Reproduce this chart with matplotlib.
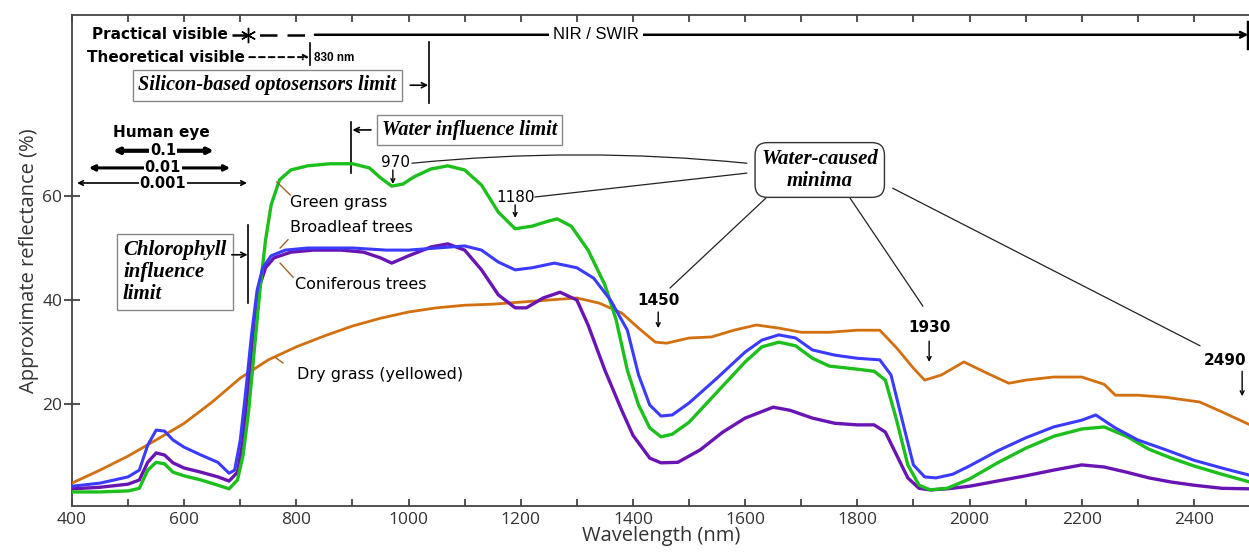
import numpy as np
import matplotlib
matplotlib.use("Agg")
import matplotlib.pyplot as plt

# ---- data ----
green_wl = [400, 450, 500, 520, 535, 550, 565, 580, 600, 630, 660, 680, 695, 705, 715, 725,
            735, 745, 755, 770, 790, 820, 860, 900, 930, 950, 970, 990, 1010, 1040, 1070,
            1100, 1130, 1160, 1190, 1220, 1250, 1265, 1290, 1320, 1350, 1370, 1390, 1410,
            1430, 1450, 1470, 1500, 1550, 1600, 1630, 1660, 1690, 1720, 1750, 1800, 1830,
            1850, 1870, 1890, 1910, 1930, 1960, 2000, 2050, 2100, 2150, 2200, 2240, 2280,
            2320, 2360, 2400, 2450, 2500]
green_r = [3.1, 3.1, 3.3, 3.8, 7.3, 8.8, 8.5, 6.9, 6.2, 5.4, 4.4, 3.7, 5.4, 10.2, 18.8, 30.4,
           41.9, 51.5, 58.3, 63.1, 65.0, 65.8, 66.2, 66.2, 65.4, 63.5, 61.9, 62.3, 63.7, 65.2,
           65.8, 65.0, 62.1, 56.9, 53.7, 54.2, 55.2, 55.6, 54.2, 49.6, 42.9, 36.2, 26.5, 19.8,
           15.4, 13.7, 14.2, 16.5, 22.3, 28.1, 31.0, 31.9, 31.2, 28.8, 27.3, 26.7, 26.3,
           24.6, 16.9, 8.3, 4.4, 3.5, 3.8, 5.6, 8.7, 11.5, 13.8, 15.2, 15.6, 13.8,
           11.3, 9.6, 8.1, 6.5, 5.0]

blue_wl = [400, 450, 500, 520, 535, 550, 565, 580, 600, 630, 660, 680, 690, 700, 710, 720,
           730, 740, 755, 780, 820, 900, 960, 1000, 1050, 1100, 1130, 1160, 1190, 1220, 1260,
           1300, 1330, 1360, 1390, 1410, 1430, 1450, 1470, 1500, 1550, 1600, 1630, 1660,
           1690, 1720, 1760, 1800, 1840, 1860, 1880, 1900, 1920, 1940, 1970, 2000, 2050,
           2100, 2150, 2200, 2225, 2260, 2300, 2350, 2400, 2450, 2500]
blue_r = [4.2, 4.8, 6.0, 7.3, 12.1, 15.0, 14.8, 13.1, 11.7, 10.2, 8.8, 6.7, 7.3, 13.1, 22.7,
          33.3, 41.9, 46.2, 48.5, 49.6, 50.0, 50.0, 49.6, 49.6, 50.0, 50.4, 49.6, 47.3, 45.8,
          46.2, 47.1, 46.2, 44.2, 40.0, 34.2, 25.6, 19.8, 17.7, 17.9, 20.2, 25.0, 30.0, 32.3,
          33.3, 32.7, 30.4, 29.4, 28.8, 28.5, 25.6, 16.9, 8.3, 6.0, 5.8, 6.5, 8.1, 11.0,
          13.5, 15.6, 16.9, 17.9, 15.4, 13.1, 11.2, 9.2, 7.7, 6.3]

conif_wl = [400, 450, 500, 520, 535, 550, 565, 580, 600, 630, 660, 680, 695, 705, 715, 725,
            735, 745, 760, 790, 830, 880, 920, 950, 970, 1000, 1040, 1070, 1100, 1130, 1160,
            1190, 1210, 1240, 1270, 1300, 1320, 1350, 1380, 1400, 1430, 1450, 1480, 1520,
            1560, 1600, 1650, 1680, 1720, 1760, 1800, 1830, 1850, 1870, 1890, 1910, 1930,
            1960, 2000, 2050, 2100, 2150, 2200, 2240, 2280, 2320, 2360, 2400, 2450, 2500]
conif_r = [3.7, 4.0, 4.6, 5.4, 8.8, 10.6, 10.2, 8.7, 7.7, 6.9, 6.0, 5.2, 6.9, 13.1, 24.6,
           36.2, 42.9, 46.2, 48.1, 49.2, 49.6, 49.6, 49.2, 48.1, 47.1, 48.5, 50.2, 50.8, 49.6,
           45.8, 41.0, 38.5, 38.5, 40.4, 41.5, 40.0, 35.2, 26.5, 18.8, 14.0, 9.6, 8.7, 8.8,
           11.2, 14.6, 17.3, 19.4, 18.8, 17.3, 16.3, 16.0, 16.0, 14.6, 10.2, 5.8, 3.8, 3.5,
           3.7, 4.2, 5.2, 6.2, 7.3, 8.3, 7.9, 6.9, 5.8, 5.0, 4.4, 3.8, 3.7]

dry_wl = [400, 450, 500, 550, 600, 650, 700, 750, 800, 850, 900, 950, 1000, 1050, 1100,
          1150, 1200, 1250, 1300, 1340, 1380, 1410, 1440, 1460, 1500, 1540, 1580, 1620,
          1660, 1700, 1750, 1800, 1840, 1870, 1900, 1920, 1950, 1990, 2030, 2070, 2100,
          2150, 2200, 2240, 2260, 2300, 2350, 2410, 2450, 2500]
dry_r = [4.8, 7.3, 10.0, 13.1, 16.3, 20.4, 25.0, 28.5, 31.0, 33.1, 35.0, 36.5, 37.7, 38.5,
         39.0, 39.2, 39.6, 40.0, 40.4, 39.4, 37.5, 34.6, 31.9, 31.7, 32.7, 32.9, 34.2, 35.2,
         34.6, 33.8, 33.8, 34.2, 34.2, 30.8, 26.9, 24.6, 25.6, 28.1, 26.0, 24.0, 24.6,
         25.2, 25.2, 23.8, 21.7, 21.7, 21.3, 20.4, 18.5, 16.0]

minima_wl = [970, 1180, 1450, 1930, 2490]
x_ticks = [400, 600, 800, 1000, 1200, 1400, 1600, 1800, 2000, 2200, 2400]
y_ticks = [20, 40, 60]

GREEN, BLUE, PURPLE, ORANGE = "#1cbf1c", "#3b3bff", "#6a14b4", "#d2700f"
LEAD = "#a0622a"
SANS = ["DejaVu Sans"]
SERIF = ["Liberation Serif", "DejaVu Serif"]
TICKF = ["Open Sans", "DejaVu Sans"]

fig = plt.figure(figsize=(12.49, 5.53), dpi=100)
ax = fig.add_axes([72 / 1249, 1 - 506 / 553, 1178 / 1249, 491 / 553])

kw = dict(solid_joinstyle="round", solid_capstyle="round")
ax.plot(dry_wl, dry_r, color=ORANGE, lw=2.0, zorder=3, **kw)
ax.plot(conif_wl, conif_r, color=PURPLE, lw=2.4, zorder=4, **kw)
ax.plot(green_wl, green_r, color=GREEN, lw=2.4, zorder=4, **kw)
ax.plot(blue_wl, blue_r, color=BLUE, lw=2.2, zorder=5, **kw)

ax.set_xlim(400, 2500)
ax.set_ylim(0.4, 94.8)
ax.set_xticks(x_ticks)
ax.set_xticks(np.arange(400, 2501, 100), minor=True)
ax.set_yticks(y_ticks)
ax.tick_params(axis="x", which="both", direction="in", length=5, width=1.2,
               top=True, color="#333333", labelsize=12.5, labelcolor="#333333", pad=4)
ax.tick_params(axis="y", direction="inout", length=12, width=1.2, color="#333333",
               labelsize=12.5, labelcolor="#333333", pad=1)
for lab in ax.get_xticklabels() + ax.get_yticklabels():
    lab.set_family(TICKF)
for s in ("left", "bottom", "top"):
    ax.spines[s].set_color("#444444")
    ax.spines[s].set_linewidth(1.3)
ax.spines["right"].set_color("#999999")
ax.spines["right"].set_linewidth(0.8)
ax.set_xlabel("Wavelength (nm)", fontsize=14.5, family=TICKF, color="#333333", labelpad=-1)
ax.set_ylabel("Approximate reflectance (%)", fontsize=14.5, family=TICKF, color="#333333",
              labelpad=2)

# ---- spectral region bars at the top ----
ax.text(678, 91, "Practical visible", ha="right", va="center", fontsize=11,
        weight="bold", family=SANS)
ax.plot([685, 821], [91, 91], color="black", lw=1.8, dashes=(7, 4))
ax.plot([714], [91], marker=(6, 2, 0), ms=11, color="black", mew=1.0)
ax.annotate("", xy=(2497, 91), xytext=(833, 91),
            arrowprops=dict(arrowstyle="->", lw=1.8, color="black", shrinkA=0, shrinkB=0,
                            mutation_scale=10))
ax.plot([2497, 2497], [88.5, 93.5], color="black", lw=2.5)
ax.text(1334, 91, "NIR / SWIR", ha="center", va="center", fontsize=12,
        family=["Liberation Sans Narrow", "Liberation Sans"],
        bbox=dict(facecolor="white", edgecolor="none", pad=3))

ax.text(708, 86.7, "Theoretical visible", ha="right", va="center", fontsize=11,
        weight="bold", family=SANS)
ax.annotate("", xy=(823, 86.7), xytext=(716, 86.7),
            arrowprops=dict(arrowstyle="->", lw=1.4, color="black", linestyle=(0, (3, 2)),
                            shrinkA=0, shrinkB=0, mutation_scale=8))
ax.plot([825, 825], [85.2, 89.4], color="black", lw=1.2)
ax.text(832, 86.5, "830 nm", ha="left", va="center", fontsize=8.5, weight="bold",
        family=["Liberation Sans Narrow", "Liberation Sans"])

ax.text(748, 81.3, "Silicon-based optosensors limit", ha="center", va="center",
        fontsize=14.5, style="italic", weight="bold", family=SERIF,
        bbox=dict(facecolor="white", edgecolor="#888888", lw=1.0, boxstyle="square,pad=0.28"))
ax.annotate("", xy=(1035, 81.3), xytext=(1003, 81.3),
            arrowprops=dict(arrowstyle="->", lw=1.2, color="black", shrinkA=0, shrinkB=0,
                            mutation_scale=9))
ax.plot([1036, 1036], [77.9, 89.6], color="black", lw=1.2)

ax.text(1109, 72.7, "Water influence limit", ha="center", va="center",
        fontsize=14.5, style="italic", weight="bold", family=SERIF,
        bbox=dict(facecolor="white", edgecolor="#888888", lw=1.0, boxstyle="square,pad=0.25"))
ax.annotate("", xy=(900, 72.7), xytext=(933, 72.7),
            arrowprops=dict(arrowstyle="->", lw=1.2, color="black", shrinkA=0, shrinkB=0,
                            mutation_scale=9))
ax.plot([897, 897], [64.4, 74.2], color="black", lw=1.2)

# ---- human eye sensitivity ----
ax.text(560, 72.3, "Human eye", ha="center", va="center", fontsize=11, weight="bold",
        family=SANS)
for (lo, hi, yy, lw, lab) in [(473, 653, 68.7, 3.0, "0.1"), (430, 682, 65.4, 2.2, "0.01"),
                              (409, 712, 62.5, 1.2, "0.001")]:
    ax.annotate("", xy=(hi, yy), xytext=(lo, yy),
                arrowprops=dict(arrowstyle="<->", lw=lw, color="black", shrinkA=0, shrinkB=0,
                                mutation_scale=8))
    ax.text(562, yy, lab, ha="center", va="center", fontsize=10.5, weight="bold",
            family=SANS, bbox=dict(facecolor="white", edgecolor="none", pad=0.5))

# ---- chlorophyll ----
ax.text(491, 45.4, "Chlorophyll\ninfluence\nlimit", ha="left", va="center",
        fontsize=15, style="italic", weight="bold", family=SERIF, linespacing=1.12,
        bbox=dict(facecolor="white", edgecolor="#888888", lw=1.0, boxstyle="square,pad=0.3"))
ax.annotate("", xy=(713, 48.7), xytext=(685, 48.7),
            arrowprops=dict(arrowstyle="->", lw=1.2, color="black", shrinkA=0, shrinkB=0,
                            mutation_scale=9))
ax.plot([714, 714], [39.4, 54.4], color="black", lw=1.2)

# ---- curve labels ----
for (txt, tx, ty, p0, p1) in [("Green grass", 789, 58.7, (765, 62.7), (789, 60.2)),
                              ("Broadleaf trees", 789, 54.0, (785, 51.6), (771, 50.0)),
                              ("Coniferous trees", 797, 42.9, (771, 47.1), (794, 44.4)),
                              ("Dry grass (yellowed)", 801, 25.6, (762, 29.0), (776, 27.9))]:
    ax.text(tx, ty, txt, ha="left", va="center", fontsize=11.5, family=SANS, zorder=6)
    ax.plot([p0[0], p1[0]], [p0[1], p1[1]], color=LEAD, lw=1.0, zorder=6)

# ---- water-caused minima ----
lab_pos = [(976, 66.5, False), (1191, 59.8, False), (1446, 40.0, True),
           (1928, 34.8, True), (2455, 28.3, True)]
arr_pos = [(972, 65.0, 62.3), (1190, 58.3, 55.8), (1445, 37.7, 34.6),
           (1928, 32.1, 28.1), (2486, 26.3, 21.5)]
for wl, (tx, ty, bold), (ax_, y0, y1) in zip(minima_wl, lab_pos, arr_pos):
    ax.text(tx, ty, str(wl), ha="center", va="center", fontsize=11,
            weight="bold" if bold else "normal", family=SANS, zorder=6)
    ax.annotate("", xy=(ax_, y1), xytext=(ax_, y0),
                arrowprops=dict(arrowstyle="->", lw=1.0, color="black",
                                shrinkA=0, shrinkB=0, mutation_scale=7))

ax.text(1733, 65.0, "Water-caused\nminima", ha="center", va="center", fontsize=15,
        style="italic", weight="bold", family=SERIF, linespacing=1.15, zorder=7,
        bbox=dict(facecolor="white", edgecolor="#333333", lw=1.0,
                  boxstyle="round,pad=0.3,rounding_size=0.6"))
for (p0, p1, rad) in [((1006, 66.3), (1603, 66.3), -0.05), ((1225, 59.8), (1603, 64.4), 0),
                      ((1466, 42.3), (1637, 59.6), 0), ((1917, 38.8), (1787, 59.6), 0),
                      ((2411, 31.2), (1863, 61.5), 0)]:
    ax.annotate("", xy=p1, xytext=p0,
                arrowprops=dict(arrowstyle="-", lw=0.9, color="#222222", shrinkA=0, shrinkB=0,
                                connectionstyle=f"arc3,rad={rad}"))

fig.savefig("out.png", dpi=100)
